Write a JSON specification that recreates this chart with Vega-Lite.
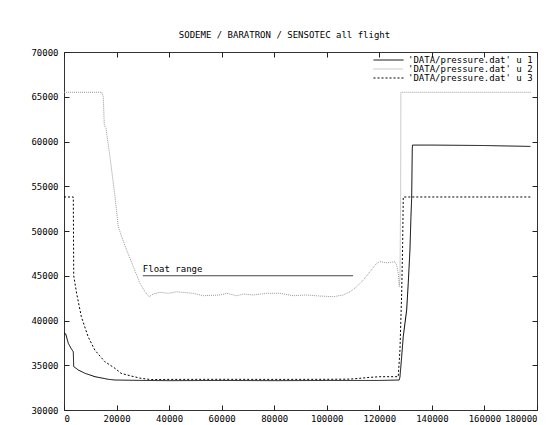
{
  "$schema": "https://vega.github.io/schema/vega-lite/v6.json",
  "autosize": "none",
  "padding": {"left": 64, "top": 52, "right": 16, "bottom": 15},
  "width": 473,
  "height": 358,
  "background": "white",
  "title": {"text": "SODEME / BARATRON / SENSOTEC all flight", "font": "DejaVu Sans Mono", "fontSize": 9, "fontWeight": "normal", "color": "black", "offset": 8, "dx": -16},
  "config": {
    "view": {"stroke": "#333", "strokeWidth": 1},
    "axis": {"domain": false, "grid": false, "labelFont": "DejaVu Sans Mono", "labelFontSize": 9, "labelColor": "black", "title": null},
    "legend": {"labelFont": "DejaVu Sans Mono", "labelFontSize": 9, "labelColor": "black"}
  },
  "datasets": {
    "series": [
      {"t": 0, "p": 38600, "s": "'DATA/pressure.dat' u 1"},
      {"t": 650, "p": 38500, "s": "'DATA/pressure.dat' u 1"},
      {"t": 1640, "p": 37450, "s": "'DATA/pressure.dat' u 1"},
      {"t": 2660, "p": 36900, "s": "'DATA/pressure.dat' u 1"},
      {"t": 3540, "p": 36500, "s": "'DATA/pressure.dat' u 1"},
      {"t": 3690, "p": 34850, "s": "'DATA/pressure.dat' u 1"},
      {"t": 5440, "p": 34470, "s": "'DATA/pressure.dat' u 1"},
      {"t": 7990, "p": 34100, "s": "'DATA/pressure.dat' u 1"},
      {"t": 11800, "p": 33720, "s": "'DATA/pressure.dat' u 1"},
      {"t": 16860, "p": 33430, "s": "'DATA/pressure.dat' u 1"},
      {"t": 19400, "p": 33350, "s": "'DATA/pressure.dat' u 1"},
      {"t": 30000, "p": 33300, "s": "'DATA/pressure.dat' u 1"},
      {"t": 40000, "p": 33280, "s": "'DATA/pressure.dat' u 1"},
      {"t": 60000, "p": 33300, "s": "'DATA/pressure.dat' u 1"},
      {"t": 80000, "p": 33280, "s": "'DATA/pressure.dat' u 1"},
      {"t": 100000, "p": 33300, "s": "'DATA/pressure.dat' u 1"},
      {"t": 120000, "p": 33300, "s": "'DATA/pressure.dat' u 1"},
      {"t": 127580, "p": 33350, "s": "'DATA/pressure.dat' u 1"},
      {"t": 127850, "p": 33700, "s": "'DATA/pressure.dat' u 1"},
      {"t": 128500, "p": 35950, "s": "'DATA/pressure.dat' u 1"},
      {"t": 129100, "p": 38190, "s": "'DATA/pressure.dat' u 1"},
      {"t": 130400, "p": 41170, "s": "'DATA/pressure.dat' u 1"},
      {"t": 131000, "p": 44150, "s": "'DATA/pressure.dat' u 1"},
      {"t": 131650, "p": 47870, "s": "'DATA/pressure.dat' u 1"},
      {"t": 132030, "p": 51590, "s": "'DATA/pressure.dat' u 1"},
      {"t": 132300, "p": 53650, "s": "'DATA/pressure.dat' u 1"},
      {"t": 132530, "p": 59040, "s": "'DATA/pressure.dat' u 1"},
      {"t": 132600, "p": 59600, "s": "'DATA/pressure.dat' u 1"},
      {"t": 140000, "p": 59600, "s": "'DATA/pressure.dat' u 1"},
      {"t": 160000, "p": 59550, "s": "'DATA/pressure.dat' u 1"},
      {"t": 177500, "p": 59450, "s": "'DATA/pressure.dat' u 1"},

      {"t": 0, "p": 65500, "s": "'DATA/pressure.dat' u 2"},
      {"t": 14350, "p": 65500, "s": "'DATA/pressure.dat' u 2"},
      {"t": 14950, "p": 65000, "s": "'DATA/pressure.dat' u 2"},
      {"t": 15330, "p": 61830, "s": "'DATA/pressure.dat' u 2"},
      {"t": 15980, "p": 61470, "s": "'DATA/pressure.dat' u 2"},
      {"t": 17500, "p": 58290, "s": "'DATA/pressure.dat' u 2"},
      {"t": 19400, "p": 53830, "s": "'DATA/pressure.dat' u 2"},
      {"t": 20660, "p": 50480, "s": "'DATA/pressure.dat' u 2"},
      {"t": 21960, "p": 49360, "s": "'DATA/pressure.dat' u 2"},
      {"t": 23860, "p": 47870, "s": "'DATA/pressure.dat' u 2"},
      {"t": 26370, "p": 46010, "s": "'DATA/pressure.dat' u 2"},
      {"t": 28920, "p": 44150, "s": "'DATA/pressure.dat' u 2"},
      {"t": 30820, "p": 43210, "s": "'DATA/pressure.dat' u 2"},
      {"t": 32340, "p": 42660, "s": "'DATA/pressure.dat' u 2"},
      {"t": 33980, "p": 42960, "s": "'DATA/pressure.dat' u 2"},
      {"t": 36530, "p": 43150, "s": "'DATA/pressure.dat' u 2"},
      {"t": 39690, "p": 43040, "s": "'DATA/pressure.dat' u 2"},
      {"t": 42880, "p": 43210, "s": "'DATA/pressure.dat' u 2"},
      {"t": 46690, "p": 43100, "s": "'DATA/pressure.dat' u 2"},
      {"t": 49200, "p": 43040, "s": "'DATA/pressure.dat' u 2"},
      {"t": 53000, "p": 42770, "s": "'DATA/pressure.dat' u 2"},
      {"t": 59360, "p": 42850, "s": "'DATA/pressure.dat' u 2"},
      {"t": 61910, "p": 43040, "s": "'DATA/pressure.dat' u 2"},
      {"t": 65710, "p": 42770, "s": "'DATA/pressure.dat' u 2"},
      {"t": 68220, "p": 42960, "s": "'DATA/pressure.dat' u 2"},
      {"t": 72030, "p": 42850, "s": "'DATA/pressure.dat' u 2"},
      {"t": 77130, "p": 43040, "s": "'DATA/pressure.dat' u 2"},
      {"t": 82190, "p": 43040, "s": "'DATA/pressure.dat' u 2"},
      {"t": 87250, "p": 42770, "s": "'DATA/pressure.dat' u 2"},
      {"t": 92350, "p": 42850, "s": "'DATA/pressure.dat' u 2"},
      {"t": 97410, "p": 42730, "s": "'DATA/pressure.dat' u 2"},
      {"t": 102470, "p": 42660, "s": "'DATA/pressure.dat' u 2"},
      {"t": 106270, "p": 42850, "s": "'DATA/pressure.dat' u 2"},
      {"t": 108820, "p": 43210, "s": "'DATA/pressure.dat' u 2"},
      {"t": 111370, "p": 43770, "s": "'DATA/pressure.dat' u 2"},
      {"t": 113880, "p": 44520, "s": "'DATA/pressure.dat' u 2"},
      {"t": 116430, "p": 45450, "s": "'DATA/pressure.dat' u 2"},
      {"t": 118980, "p": 46390, "s": "'DATA/pressure.dat' u 2"},
      {"t": 120240, "p": 46570, "s": "'DATA/pressure.dat' u 2"},
      {"t": 122790, "p": 46450, "s": "'DATA/pressure.dat' u 2"},
      {"t": 125950, "p": 46570, "s": "'DATA/pressure.dat' u 2"},
      {"t": 126590, "p": 46200, "s": "'DATA/pressure.dat' u 2"},
      {"t": 127200, "p": 45270, "s": "'DATA/pressure.dat' u 2"},
      {"t": 127580, "p": 43770, "s": "'DATA/pressure.dat' u 2"},
      {"t": 127850, "p": 44890, "s": "'DATA/pressure.dat' u 2"},
      {"t": 128110, "p": 53830, "s": "'DATA/pressure.dat' u 2"},
      {"t": 128200, "p": 65500, "s": "'DATA/pressure.dat' u 2"},
      {"t": 177700, "p": 65500, "s": "'DATA/pressure.dat' u 2"},

      {"t": 0, "p": 53800, "s": "'DATA/pressure.dat' u 3"},
      {"t": 3540, "p": 53800, "s": "'DATA/pressure.dat' u 3"},
      {"t": 3700, "p": 45000, "s": "'DATA/pressure.dat' u 3"},
      {"t": 4800, "p": 43040, "s": "'DATA/pressure.dat' u 3"},
      {"t": 6600, "p": 40420, "s": "'DATA/pressure.dat' u 3"},
      {"t": 9170, "p": 38190, "s": "'DATA/pressure.dat' u 3"},
      {"t": 11720, "p": 36700, "s": "'DATA/pressure.dat' u 3"},
      {"t": 15530, "p": 35400, "s": "'DATA/pressure.dat' u 3"},
      {"t": 19400, "p": 34660, "s": "'DATA/pressure.dat' u 3"},
      {"t": 21690, "p": 34100, "s": "'DATA/pressure.dat' u 3"},
      {"t": 25500, "p": 33800, "s": "'DATA/pressure.dat' u 3"},
      {"t": 29300, "p": 33540, "s": "'DATA/pressure.dat' u 3"},
      {"t": 33100, "p": 33400, "s": "'DATA/pressure.dat' u 3"},
      {"t": 40000, "p": 33420, "s": "'DATA/pressure.dat' u 3"},
      {"t": 60000, "p": 33430, "s": "'DATA/pressure.dat' u 3"},
      {"t": 80000, "p": 33420, "s": "'DATA/pressure.dat' u 3"},
      {"t": 100000, "p": 33430, "s": "'DATA/pressure.dat' u 3"},
      {"t": 108800, "p": 33450, "s": "'DATA/pressure.dat' u 3"},
      {"t": 112600, "p": 33540, "s": "'DATA/pressure.dat' u 3"},
      {"t": 116400, "p": 33650, "s": "'DATA/pressure.dat' u 3"},
      {"t": 120200, "p": 33720, "s": "'DATA/pressure.dat' u 3"},
      {"t": 127200, "p": 33720, "s": "'DATA/pressure.dat' u 3"},
      {"t": 127850, "p": 36700, "s": "'DATA/pressure.dat' u 3"},
      {"t": 128500, "p": 43040, "s": "'DATA/pressure.dat' u 3"},
      {"t": 128880, "p": 48620, "s": "'DATA/pressure.dat' u 3"},
      {"t": 129100, "p": 53800, "s": "'DATA/pressure.dat' u 3"},
      {"t": 177500, "p": 53800, "s": "'DATA/pressure.dat' u 3"}
    ],
    "float": [
      {"t": 30000, "t2": 110000, "p": 45000, "label": "Float range"}
    ]
  },
  "layer": [
    {
      "data": {"name": "series"},
      "mark": {"type": "line", "strokeWidth": 1},
      "encoding": {
        "x": {"field": "t", "type": "quantitative", "scale": {"domain": [0, 180000], "nice": false, "zero": false}, "axis": {"orient": "bottom", "values": [0, 20000, 40000, 60000, 80000, 100000, 120000, 140000, 160000, 180000], "format": "d", "tickSize": 5, "offset": -5, "tickColor": "#222", "labelPadding": 4}},
        "y": {"field": "p", "type": "quantitative", "scale": {"domain": [30000, 70000], "nice": false, "zero": false}, "axis": {"orient": "left", "values": [30000, 35000, 40000, 45000, 50000, 55000, 60000, 65000, 70000], "format": "d", "tickSize": 5, "offset": -5, "tickColor": "#222", "labelPadding": 6}},
        "color": {"field": "s", "type": "nominal", "scale": {"range": ["#000000", "#999999", "#000000"]}, "legend": {"title": null, "orient": "top-right", "offset": 4, "symbolType": "stroke", "symbolSize": 900, "symbolStrokeWidth": 1, "rowPadding": 0, "clipHeight": 8}},
        "strokeDash": {"field": "s", "type": "nominal", "scale": {"range": [[1, 0], [1, 1], [2, 2]]}, "legend": {"title": null, "orient": "top-right", "offset": 4, "symbolType": "stroke", "symbolSize": 900, "symbolStrokeWidth": 1, "rowPadding": 0, "clipHeight": 8}}
      }
    },
    {
      "data": {"name": "float"},
      "mark": {"type": "rule", "color": "#444", "strokeWidth": 1},
      "encoding": {
        "x": {"field": "t", "type": "quantitative", "axis": {"orient": "top", "values": [0, 20000, 40000, 60000, 80000, 100000, 120000, 140000, 160000, 180000], "labels": false, "tickSize": 5, "offset": -5, "tickColor": "#222"}},
        "x2": {"field": "t2"},
        "y": {"field": "p", "type": "quantitative", "axis": {"orient": "right", "values": [30000, 35000, 40000, 45000, 50000, 55000, 60000, 65000, 70000], "labels": false, "tickSize": 5, "offset": -5, "tickColor": "#222"}}
      }
    },
    {
      "data": {"name": "float"},
      "mark": {"type": "text", "align": "left", "baseline": "bottom", "dy": -2, "font": "DejaVu Sans Mono", "fontSize": 9, "color": "black"},
      "encoding": {
        "x": {"field": "t", "type": "quantitative", "axis": null},
        "y": {"field": "p", "type": "quantitative", "axis": null},
        "text": {"field": "label"}
      }
    }
  ],
  "resolve": {"axis": {"x": "independent", "y": "independent"}}
}
